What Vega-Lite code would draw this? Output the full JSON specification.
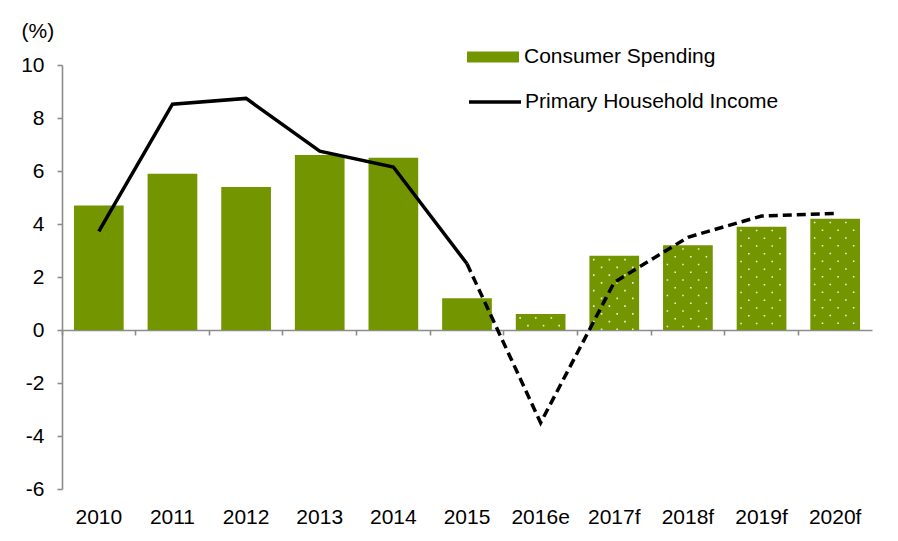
{
  "$schema": "https://vega.github.io/schema/vega-lite/v6.json",
  "width": 810,
  "height": 424,
  "autosize": {"type": "none"},
  "padding": {"left": 62, "top": 65, "right": 26, "bottom": 52},
  "background": "white",
  "config": {
    "view": {"stroke": null},
    "font": "Liberation Sans",
    "axis": {"labelFont": "Liberation Sans", "titleFont": "Liberation Sans", "labelFontSize": 21, "labelColor": "#000000", "grid": false}
  },
  "data": {
    "values": [
      {"year": "2010", "spend": 4.7, "income": 3.72},
      {"year": "2011", "spend": 5.9, "income": 8.52},
      {"year": "2012", "spend": 5.4, "income": 8.74},
      {"year": "2013", "spend": 6.6, "income": 6.75},
      {"year": "2014", "spend": 6.5, "income": 6.15},
      {"year": "2015", "spend": 1.2, "income": 2.5},
      {"year": "2016e", "spend": 0.6, "income": -3.5},
      {"year": "2017f", "spend": 2.8, "income": 1.8},
      {"year": "2018f", "spend": 3.2, "income": 3.5},
      {"year": "2019f", "spend": 3.9, "income": 4.3},
      {"year": "2020f", "spend": 4.2, "income": 4.4}
    ]
  },
  "encoding": {
    "x": {
      "field": "year", "type": "nominal", "sort": null,
      "scale": {"type": "band", "paddingInner": 0, "paddingOuter": 0},
      "axis": {
        "title": null, "labelAngle": 0, "offset": -159,
        "domainColor": "#8c8c8c", "domainWidth": 1.6,
        "tickColor": "#8c8c8c", "tickWidth": 1.6, "tickSize": 5, "bandPosition": 0,
        "labelPadding": 171, "labelBaseline": "top"
      }
    }
  },
  "layer": [
    {
      "mark": {"type": "bar", "width": {"band": 0.675}},
      "encoding": {
        "y": {
          "field": "spend", "type": "quantitative",
          "scale": {"domain": [-6, 10], "nice": false, "zero": false},
          "axis": {
            "values": [-6, -4, -2, 0, 2, 4, 6, 8, 10],
            "labelExpr": "datum.value + ''",
            "domainColor": "#8c8c8c", "domainWidth": 1.6,
            "tickColor": "#8c8c8c", "tickWidth": 1.6, "tickSize": 5,
            "labelPadding": 13,
            "title": "(%)", "titleAngle": 0, "titleAlign": "left", "titleBaseline": "alphabetic",
            "titleX": -41, "titleY": -28, "titleFontSize": 21, "titleFontWeight": "normal", "titleColor": "#000000"
          }
        },
        "fill": {
          "datum": "Consumer Spending",
          "type": "nominal",
          "scale": {"range": ["#729500"]},
          "legend": {
            "title": null, "orient": "none", "legendX": 405, "legendY": -34,
            "symbolType": "M-1,-0.21H1V0.21H-1Z", "symbolSize": 2704, "symbolStrokeWidth": 0,
            "labelFont": "Liberation Sans", "labelFontSize": 21, "labelColor": "#000000", "labelOffset": 5, "labelLimit": 500, "padding": 0
          }
        }
      }
    },
    {
      "transform": [{"filter": {"field": "year", "oneOf": ["2016e", "2017f", "2018f", "2019f", "2020f"]}}],
      "mark": {"type": "rule", "xOffset": -20.5, "stroke": "white", "strokeWidth": 1.6, "strokeDash": [1.6, 13.9], "strokeDashOffset": -3, "strokeCap": "butt", "opacity": 0.85},
      "encoding": {"y": {"field": "spend", "type": "quantitative"}, "y2": {"datum": 0}}
    },
    {
      "transform": [{"filter": {"field": "year", "oneOf": ["2016e", "2017f", "2018f", "2019f", "2020f"]}}],
      "mark": {"type": "rule", "xOffset": -12.7, "stroke": "white", "strokeWidth": 1.6, "strokeDash": [1.6, 13.9], "strokeDashOffset": -10.75, "strokeCap": "butt", "opacity": 0.85},
      "encoding": {"y": {"field": "spend", "type": "quantitative"}, "y2": {"datum": 0}}
    },
    {
      "transform": [{"filter": {"field": "year", "oneOf": ["2016e", "2017f", "2018f", "2019f", "2020f"]}}],
      "mark": {"type": "rule", "xOffset": -4.9, "stroke": "white", "strokeWidth": 1.6, "strokeDash": [1.6, 13.9], "strokeDashOffset": -3, "strokeCap": "butt", "opacity": 0.85},
      "encoding": {"y": {"field": "spend", "type": "quantitative"}, "y2": {"datum": 0}}
    },
    {
      "transform": [{"filter": {"field": "year", "oneOf": ["2016e", "2017f", "2018f", "2019f", "2020f"]}}],
      "mark": {"type": "rule", "xOffset": 2.9, "stroke": "white", "strokeWidth": 1.6, "strokeDash": [1.6, 13.9], "strokeDashOffset": -10.75, "strokeCap": "butt", "opacity": 0.85},
      "encoding": {"y": {"field": "spend", "type": "quantitative"}, "y2": {"datum": 0}}
    },
    {
      "transform": [{"filter": {"field": "year", "oneOf": ["2016e", "2017f", "2018f", "2019f", "2020f"]}}],
      "mark": {"type": "rule", "xOffset": 10.7, "stroke": "white", "strokeWidth": 1.6, "strokeDash": [1.6, 13.9], "strokeDashOffset": -3, "strokeCap": "butt", "opacity": 0.85},
      "encoding": {"y": {"field": "spend", "type": "quantitative"}, "y2": {"datum": 0}}
    },
    {
      "transform": [{"filter": {"field": "year", "oneOf": ["2016e", "2017f", "2018f", "2019f", "2020f"]}}],
      "mark": {"type": "rule", "xOffset": 18.5, "stroke": "white", "strokeWidth": 1.6, "strokeDash": [1.6, 13.9], "strokeDashOffset": -10.75, "strokeCap": "butt", "opacity": 0.85},
      "encoding": {"y": {"field": "spend", "type": "quantitative"}, "y2": {"datum": 0}}
    },
    {
      "transform": [{"filter": {"field": "year", "oneOf": ["2010", "2011", "2012", "2013", "2014", "2015"]}}],
      "mark": {"type": "line", "strokeWidth": 3.5, "strokeCap": "butt", "strokeJoin": "miter"},
      "encoding": {
        "y": {"field": "income", "type": "quantitative"},
        "stroke": {
          "datum": "Primary Household Income",
          "type": "nominal",
          "scale": {"range": ["#000000"]},
          "legend": {
            "title": null, "orient": "none", "legendX": 405, "legendY": 9,
            "symbolType": "stroke", "symbolSize": 2704, "symbolStrokeWidth": 3.5,
            "labelFont": "Liberation Sans", "labelFontSize": 21, "labelColor": "#000000", "labelOffset": 2, "labelLimit": 500, "padding": 0
          }
        }
      }
    },
    {
      "transform": [{"filter": {"field": "year", "oneOf": ["2015", "2016e", "2017f", "2018f", "2019f", "2020f"]}}],
      "mark": {"type": "line", "stroke": "#000000", "strokeWidth": 3.5, "strokeDash": [9, 5], "strokeCap": "butt"},
      "encoding": {
        "y": {"field": "income", "type": "quantitative"}
      }
    }
  ]
}
